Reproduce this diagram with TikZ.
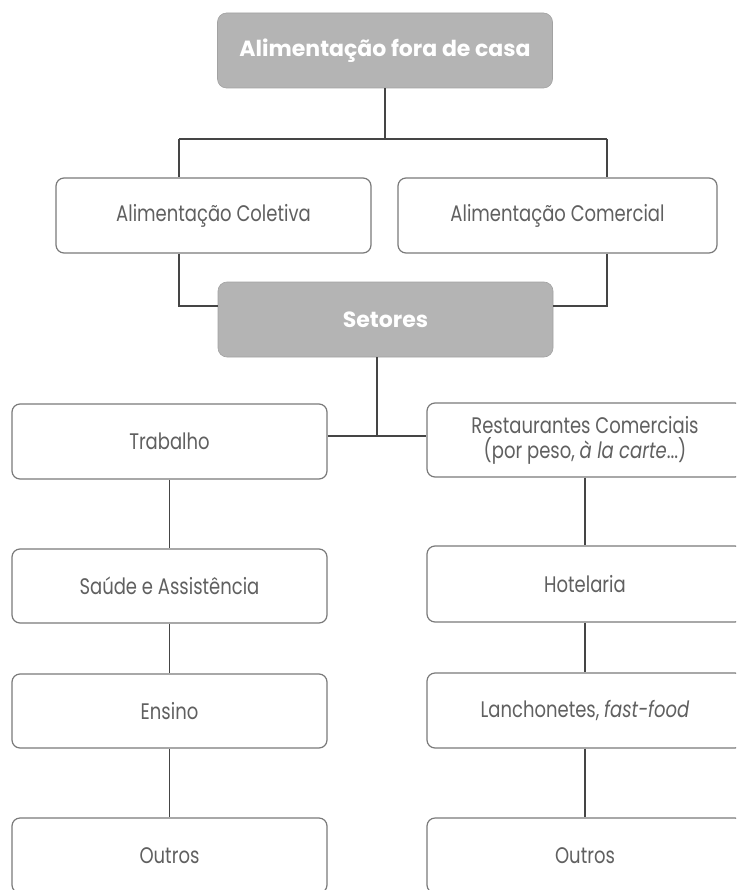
\documentclass[tikz,border=0pt]{standalone}
\usepackage{fontspec}
\setmainfont{Poppins}[FakeStretch=0.8]
\newfontfamily\titlefont{Poppins}
\begin{document}
\begin{tikzpicture}[x=1pt,y=-1pt,
  box/.style={draw=boxline, line width=1.2pt, rounded corners=8pt, fill=white,
    text=txt, font=\fontsize{22.5}{25}\selectfont, align=center, inner sep=0pt,
    minimum height=75pt},
  titlebox/.style={fill=titlefill, draw=titlefill!90!black, line width=0.6pt, rounded corners=9pt,
    text=white, font=\titlefont\fontsize{22}{25}\selectfont\bfseries, inner sep=0pt,
    minimum width=335pt, minimum height=75pt},
  conn/.style={draw=connline, line width=1.8pt}]
\definecolor{boxline}{HTML}{7A7A7A}
\definecolor{txt}{HTML}{606060}
\definecolor{titlefill}{HTML}{B4B4B4}
\definecolor{connline}{HTML}{454545}
\useasboundingbox (0,0) rectangle (736,890);
\clip (0,0) rectangle (736,890);

% nodes
\node[titlebox] (top) at (385,50.5) {Alimentação fora de casa};
\node[box, minimum width=315pt] (col) at (213.5,215.5) {Alimentação Coletiva};
\node[box, minimum width=319pt] (com) at (557.5,215.5) {Alimentação Comercial};
\node[titlebox] (set) at (385.5,319.5) {Setores};

\node[box, minimum width=315pt] (trab) at (169.5,441.5) {Trabalho};
\node[box, minimum width=315pt, minimum height=74pt] (saude) at (169.5,586) {Saúde e Assistência};
\node[box, minimum width=315pt, minimum height=74pt] (ens) at (169.5,711) {Ensino};
\node[box, minimum width=315pt] (outl) at (169.5,855.5) {Outros};

\node[box, minimum width=316pt, minimum height=74pt] (rest) at (585,440) {Restaurantes Comerciais\\ (por peso, \textit{à la carte}...)};
\node[box, minimum width=316pt, minimum height=76pt] (hot) at (585,584) {Hotelaria};
\node[box, minimum width=316pt] (lanch) at (585,710.5) {Lanchonetes, \textit{fast-food}};
\node[box, minimum width=316pt] (outr) at (585,855.5) {Outros};

% junction coordinates
\coordinate (jt) at (top.south |- 0,139);
\coordinate (jl) at (179,139);
\coordinate (jr) at (607,139);
\coordinate (bl) at (179,306);
\coordinate (br) at (607,306);
\coordinate (js) at (377,436);

% connectors
\draw[conn] (top.south) -- (jt);
\draw[conn] (jl) -- (jr);
\draw[conn] (jl) -- (jl |- col.north);
\draw[conn] (jr) -- (jr |- com.north);
\draw[conn] (bl |- col.south) -- (bl) -- (bl -| set.west);
\draw[conn] (br |- com.south) -- (br) -- (br -| set.east);
\draw[conn] (js |- set.south) -- (js);
\draw[conn] (js -| trab.east) -- (js -| rest.west);
\draw[conn] (trab) -- (saude);
\draw[conn] (saude) -- (ens);
\draw[conn] (ens) -- (outl);
\draw[conn] (rest) -- (hot);
\draw[conn] (hot) -- (lanch);
\draw[conn] (lanch) -- (outr);
\end{tikzpicture}
\end{document}
